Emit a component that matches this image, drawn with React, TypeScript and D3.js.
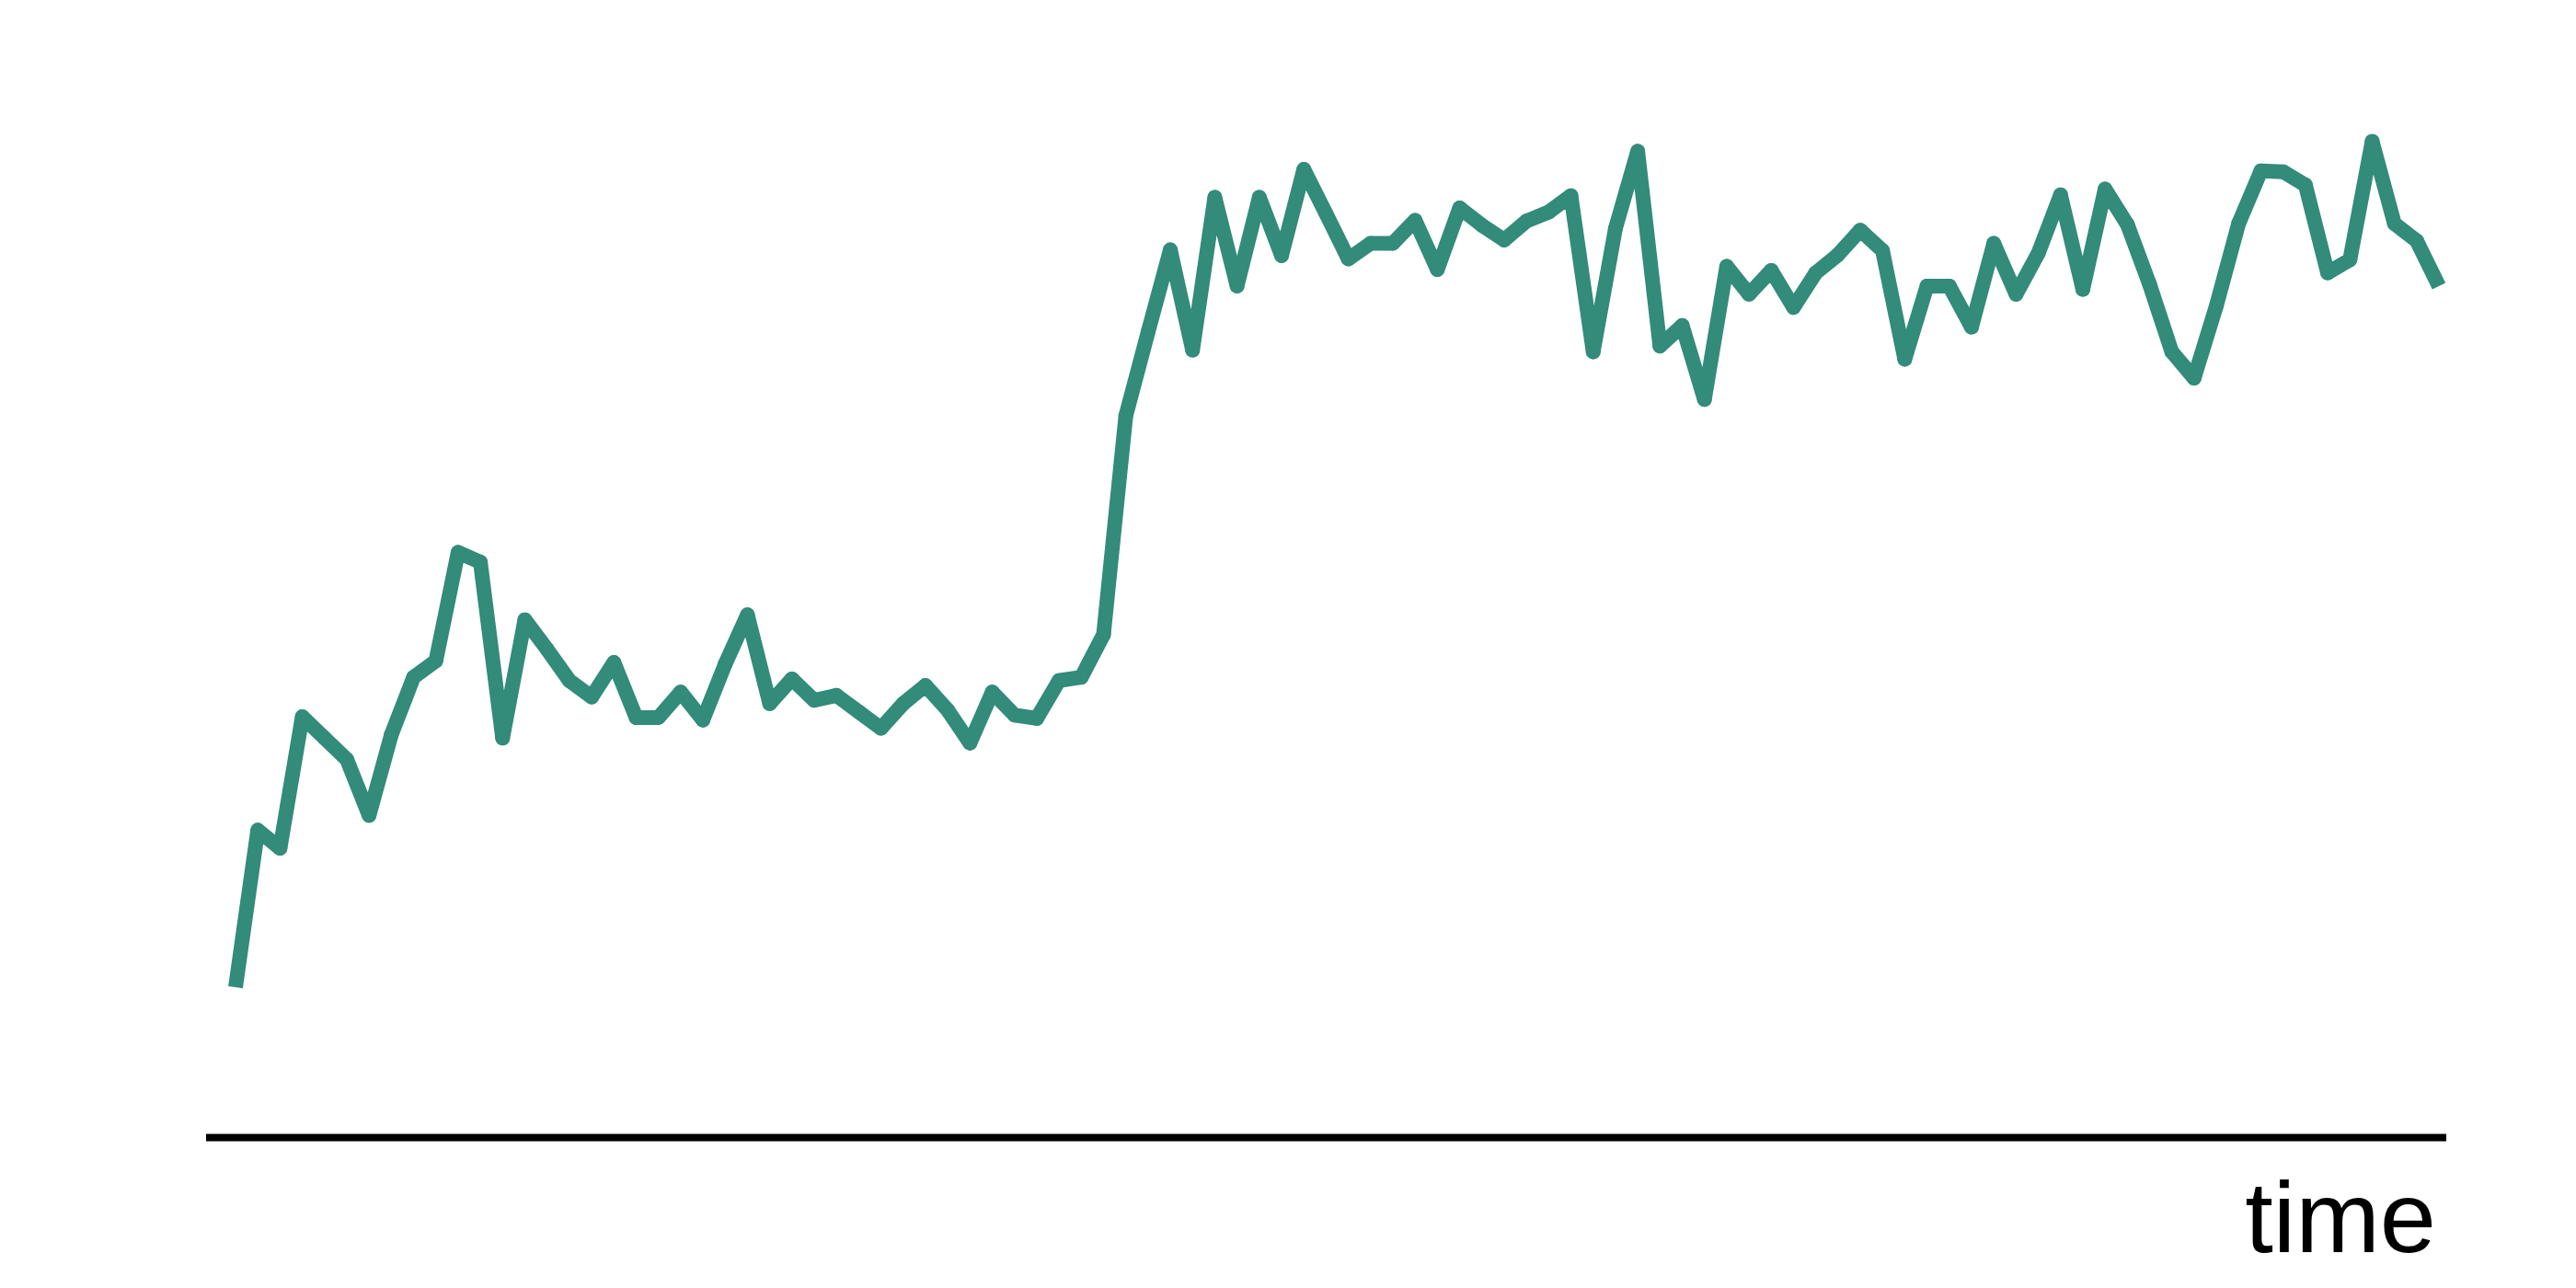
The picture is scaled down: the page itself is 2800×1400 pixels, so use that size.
import React, { useRef, useEffect } from 'react';
import * as d3 from 'd3';

// one reading per time step, height above the baseline
const steps: number[] = d3.range(100);
const level: number[] = [
  91.5, 187, 176, 256, 243, 230, 196, 245, 280, 290,
  356, 350, 243, 315, 297, 278, 268, 289, 255.5, 255.5,
  271, 254, 288, 318, 264, 279, 266, 269, 259, 249,
  264, 275, 260, 240, 271, 257, 255, 278, 280, 306,
  439, 490, 540, 479, 572, 518, 572, 536.5, 589, 562,
  534.5, 544, 544, 558, 528, 565.5, 555, 546, 557.5, 563,
  573, 478, 553, 600, 481.5, 494, 449, 530, 513, 527.5,
  505, 526, 537, 552, 539.5, 473.5, 518, 518, 493, 544,
  513, 538, 573.5, 516, 577, 555.5, 519, 478, 462, 506,
  556, 588, 587.5, 579.5, 526, 534, 606, 556, 545.5, 518,
];
const axisLabel = 'time';

export default function App() {
  const ref = useRef<SVGSVGElement>(null);

  useEffect(() => {
    const width = 2800;
    const height = 1400;
    const lineColor = '#338b7a';

    const svg = d3.select(ref.current)
      .attr('width', width)
      .attr('height', height);
    svg.selectAll('*').remove();

    const x = d3.scaleLinear().domain([0, 99]).range([256, 2651]);
    const y = d3.scaleLinear().domain([0, 692]).range([1236.5, 0]);

    svg.append('rect')
      .attr('width', width)
      .attr('height', height)
      .attr('fill', '#ffffff');

    // baseline
    svg.append('line')
      .attr('x1', 224)
      .attr('x2', 2659)
      .attr('y1', y(0))
      .attr('y2', y(0))
      .attr('stroke', '#000')
      .attr('stroke-width', 8);

    const data = steps.map((s, i) => ({ s, v: level[i] }));

    const line = d3.line<{ s: number; v: number }>()
      .x(d => x(d.s))
      .y(d => y(d.v));

    svg.append('path')
      .datum(data)
      .attr('d', line)
      .attr('fill', 'none')
      .attr('stroke', lineColor)
      .attr('stroke-width', 16)
      .attr('stroke-linejoin', 'round')
      .attr('stroke-linecap', 'butt');

    // markers on inner points
    svg.append('g')
      .selectAll('circle')
      .data(data.slice(1, -1))
      .enter()
      .append('circle')
      .attr('cx', d => x(d.s))
      .attr('cy', d => y(d.v))
      .attr('r', 8)
      .attr('fill', lineColor);

    svg.append('text')
      .attr('x', 2648)
      .attr('y', 1361)
      .attr('text-anchor', 'end')
      .attr('font-family', '"Liberation Sans", Arial, sans-serif')
      .attr('font-size', 110)
      .attr('fill', '#000')
      .text(axisLabel);
  }, []);

  return (
    <div style={{ position: 'absolute', left: 0, top: 0 }}>
      <svg ref={ref} style={{ display: 'block' }} />
    </div>
  );
}
